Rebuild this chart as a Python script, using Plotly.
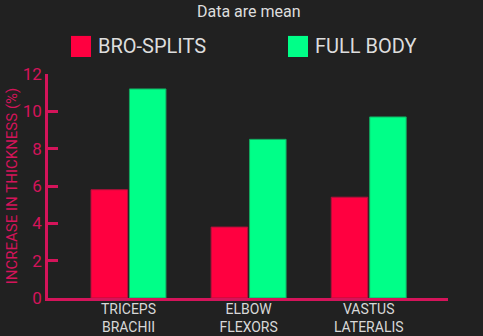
import plotly.graph_objects as go

# Muscle groups and mean increase in thickness (%)
categories = ["TRICEPS BRACHII", "ELBOW FLEXORS", "VASTUS LATERALIS"]
tick_labels = ["TRICEPS<br>BRACHII", "ELBOW<br>FLEXORS", "VASTUS<br>LATERALIS"]
bro_splits = [5.8, 3.8, 5.4]
full_body = [11.2, 8.5, 9.7]
y_ticks = [0, 2, 4, 6, 8, 10, 12]

BG = "#212121"
AXIS = "#d4145a"
RED = "#ff0040"
GREEN = "#00ff88"
FONT = "Roboto"

fig = go.Figure()
fig.add_trace(go.Bar(
    name="BRO-SPLITS", x=categories, y=bro_splits,
    marker=dict(color=RED, line=dict(color="#b0103a", width=1)),
))
fig.add_trace(go.Bar(
    name="FULL BODY", x=categories, y=full_body,
    marker=dict(color=GREEN, line=dict(color="#14a860", width=1)),
))

fig.update_layout(
    width=483, height=336,
    paper_bgcolor=BG, plot_bgcolor=BG,
    margin=dict(l=48, r=35, t=74, b=38, autoexpand=False),
    barmode="group", bargap=0.36, bargroupgap=0.05,
    showlegend=False,
    font=dict(family=FONT, color="#dddddd"),
    title=dict(text="Data are mean", x=0.515, xanchor="center", y=0.965, yanchor="middle",
               font=dict(size=16, color="#dddddd", family=FONT)),
)

fig.update_xaxes(
    automargin=False,
    range=[-0.67, 2.66],
    tickmode="array", tickvals=categories, ticktext=tick_labels,
    tickfont=dict(size=14, color="#d8d8d8", family=FONT),
    ticklabelstandoff=-4,
    showline=True, linecolor=AXIS, linewidth=2.5,
    ticks="", showgrid=False, zeroline=False,
)
fig.update_yaxes(
    automargin=False,
    range=[0, 12], tickvals=y_ticks,
    tickfont=dict(size=17, color=AXIS, family=FONT),
    showline=True, linecolor=AXIS, linewidth=2.5,
    ticks="inside", ticklen=10, tickwidth=2.5, tickcolor=AXIS,
    showgrid=False, zeroline=False,
    title=dict(text="INCREASE IN THICKNESS (%)", standoff=2,
               font=dict(size=15, color=AXIS, family=FONT)),
)

# Legend: large colour squares with labels above the plot
legend_items = [("BRO-SPLITS", RED, 0.0575), ("FULL BODY", GREEN, 0.6)]
for label, color, x0 in legend_items:
    fig.add_shape(type="rect", xref="paper", yref="paper",
                  x0=x0, x1=x0 + 0.05, y0=1.076, y1=1.170,
                  fillcolor=color, line=dict(width=0))
    fig.add_annotation(text=label, xref="paper", yref="paper",
                       x=x0 + 0.0625, y=1.123, xanchor="left", yanchor="middle",
                       showarrow=False,
                       font=dict(size=20, color="#dddddd", family=FONT))

fig.write_html("out.html")
